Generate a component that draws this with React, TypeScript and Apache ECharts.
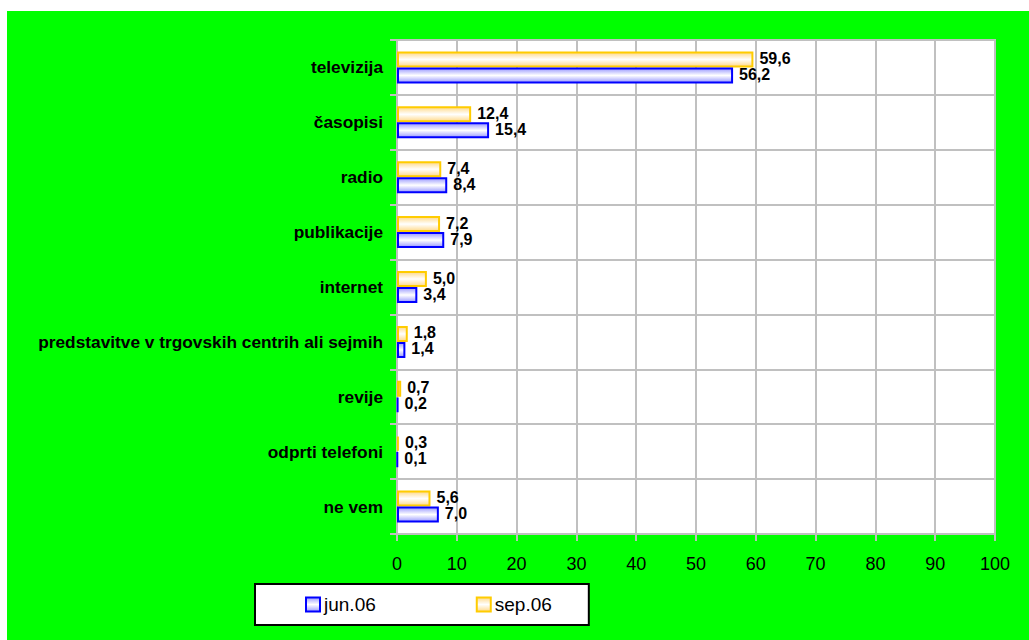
import React, { useEffect, useRef } from "react";
import * as echarts from "echarts";

const categories = [
  "televizija",
  "časopisi",
  "radio",
  "publikacije",
  "internet",
  "predstavitve v trgovskih centrih ali sejmih",
  "revije",
  "odprti telefoni",
  "ne vem",
];
const seriesNames = ["jun.06", "sep.06"];
const jun06 = [56.2, 15.4, 8.4, 7.9, 3.4, 1.4, 0.2, 0.1, 7.0];
const sep06 = [59.6, 12.4, 7.4, 7.2, 5.0, 1.8, 0.7, 0.3, 5.6];
const xTicks = { min: 0, max: 100, interval: 10 };

const FONT = "'Liberation Sans', Arial, Helvetica, sans-serif";
const GRID = "#c0c0c0";

export default function App() {
  const ref = useRef<HTMLDivElement>(null);
  useEffect(() => {
    if (!ref.current) return;
    const chart = echarts.init(ref.current, null, { renderer: "svg" });
    const fmt = (p: any) => Number(p.value).toFixed(1).replace(".", ",");
    const label = {
      show: true,
      position: "right" as const,
      distance: 6,
      offset: [0, -1],
      formatter: fmt,
      color: "#000",
      fontWeight: "bold" as const,
      fontSize: 16,
      fontFamily: FONT,
    };
    const grad = (edge: string, mid: string) =>
      new echarts.graphic.LinearGradient(0, 0, 0, 1, [
        { offset: 0, color: edge },
        { offset: 0.5, color: mid },
        { offset: 1, color: edge },
      ]);
    chart.setOption({
      animation: false,
      backgroundColor: "#00ff00",
      textStyle: { fontFamily: FONT },
      grid: {
        left: 390,
        top: 29,
        right: 34,
        bottom: 106,
        show: true,
        backgroundColor: "#ffffff",
        borderColor: GRID,
        borderWidth: 2,
      },
      legend: {
        data: seriesNames,
        left: 248,
        top: 573,
        orient: "horizontal",
        icon: "rect",
        backgroundColor: "#ffffff",
        borderColor: "#000000",
        borderWidth: 2,
        borderRadius: 0,
        padding: [11, 37, 11, 50],
        itemGap: 100,
        itemWidth: 14,
        itemHeight: 14,
        textStyle: { fontSize: 19, color: "#000", fontFamily: FONT, padding: [0, 0, 0, -1] },
      },
      xAxis: {
        type: "value",
        min: xTicks.min,
        max: xTicks.max,
        interval: xTicks.interval,
        axisLine: { show: true, lineStyle: { color: GRID, width: 2 } },
        axisTick: { show: true, length: 7, lineStyle: { color: GRID, width: 2 } },
        axisLabel: { color: "#000", fontSize: 18, fontFamily: FONT, margin: 21 },
        splitLine: { show: true, lineStyle: { color: GRID, width: 2 } },
      },
      yAxis: {
        type: "category",
        data: categories,
        inverse: true,
        axisLine: { show: true, lineStyle: { color: GRID, width: 2 } },
        axisTick: { show: true, length: 7, lineStyle: { color: GRID, width: 2 } },
        axisLabel: {
          color: "#000",
          fontSize: 17.3,
          fontWeight: "bold",
          fontFamily: FONT,
          margin: 14,
        },
        splitLine: { show: true, lineStyle: { color: GRID, width: 2 } },
      },
      series: [
        {
          name: seriesNames[1],
          type: "bar",
          data: sep06,
          barWidth: 16,
          barGap: "0%",
          itemStyle: {
            color: grad("#ffd98a", "#ffffff"),
            borderColor: "#ffcc00",
            borderWidth: 2,
          },
          label,
        },
        {
          name: seriesNames[0],
          type: "bar",
          data: jun06,
          barWidth: 16,
          barGap: "0%",
          itemStyle: {
            color: grad("#9a9aff", "#ffffff"),
            borderColor: "#0000ff",
            borderWidth: 2,
          },
          label,
        },
      ],
    });
    return () => chart.dispose();
  }, []);
  return (
    <div
      ref={ref}
      style={{
        position: "absolute",
        left: 7,
        top: 11,
        width: 1022,
        height: 629,
      }}
    />
  );
}
